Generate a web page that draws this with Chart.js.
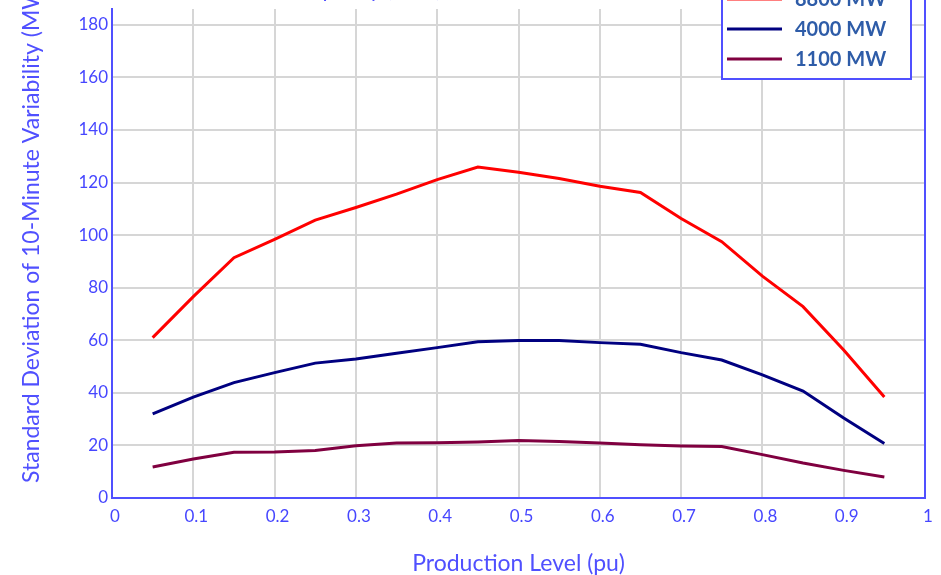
<!DOCTYPE html>
<html>
<head>
<meta charset="utf-8">
<title>10-Minute Variability</title>
<script src="https://cdn.jsdelivr.net/npm/chart.js@4.4.1/dist/chart.umd.min.js"></script>
<style>
    html, body { margin: 0; padding: 0; background: #fff; overflow: hidden; }
    #frame { position: relative; width: 941px; height: 575px; overflow: hidden; }
    #box { position: absolute; left: 0; top: -20px; width: 941px; height: 597px; }
</style>
</head>
<body>
<div id="frame"><div id="box"><canvas id="myChart"></canvas></div></div>
<script>
// Production level (pu) where the curves are sampled //
const productionLevels = [0.05, 0.1, 0.15, 0.2, 0.25, 0.3, 0.35, 0.4, 0.45, 0.5, 0.55, 0.6, 0.65, 0.7, 0.75, 0.8, 0.85, 0.9, 0.95];

// Standard deviation (MW) per plant size //
const sd8800 = [61.0, 76.6, 91.4, 98.4, 105.7, 110.5, 115.6, 121.1, 125.9, 123.9, 121.5, 118.6, 116.2, 106.3, 97.5, 84.4, 72.8, 56.3, 38.4];
const sd4000 = [32.0, 38.4, 43.9, 47.7, 51.3, 52.9, 55.1, 57.2, 59.4, 59.9, 59.9, 59.1, 58.5, 55.3, 52.5, 46.8, 40.7, 30.4, 20.7];
const sd1100 = [11.8, 14.8, 17.4, 17.5, 18.1, 19.9, 20.9, 21.0, 21.3, 21.9, 21.5, 20.9, 20.3, 19.8, 19.6, 16.5, 13.3, 10.5, 8.0];

const seriesNames = ["8800 MW", "4000 MW", "1100 MW"];
const yTickValues = [0, 20, 40, 60, 80, 100, 120, 140, 160, 180];

const blue = "#5050ff";
const textBlue = "#4646ff";
const yTitle = "Standard Deviation of 10-Minute Variability (MW)";
const topTitle = "Wind Capacity (MW)";

Chart.defaults.font.family = "Lato, 'DejaVu Sans', sans-serif";

function toPoints(values) {
    return values.map(function (v, i) {
        return { x: productionLevels[i], y: v };
    });
}

// Legend box, axis title and right border drawn over the plot //
const extras = {
    id: "extras",
    afterDraw: function (chart) {
        const ctx = chart.ctx;
        const area = chart.chartArea;

        ctx.save();
        ctx.strokeStyle = blue;
        ctx.lineWidth = 2;
        ctx.beginPath();
        ctx.moveTo(area.right, 0);
        ctx.lineTo(area.right, area.bottom);
        ctx.stroke();

        ctx.fillStyle = blue;
        ctx.font = "22px Lato";
        ctx.textAlign = "center";
        ctx.textBaseline = "bottom";
        ctx.fillText(topTitle, 340, 21);

        ctx.font = "23px Lato";
        ctx.translate(32, area.bottom - 15);
        ctx.rotate(-Math.PI / 2);
        ctx.textAlign = "left";
        ctx.textBaseline = "middle";
        ctx.fillText(yTitle, 0, 0);
        ctx.restore();

        ctx.save();
        ctx.fillStyle = "#fff";
        ctx.fillRect(722, 2, 189, 97);
        ctx.strokeStyle = blue;
        ctx.lineWidth = 2;
        ctx.strokeRect(722, 2, 189, 97);
        chart.data.datasets.forEach(function (ds, i) {
            const y = 19 + i * 30;
            ctx.strokeStyle = ds.borderColor;
            ctx.lineWidth = ds.borderWidth;
            ctx.beginPath();
            ctx.moveTo(727, y);
            ctx.lineTo(782, y);
            ctx.stroke();
            ctx.fillStyle = "#2e5ca8";
            ctx.font = "bold 20px Lato";
            ctx.textBaseline = "middle";
            ctx.fillText(ds.label, 795, y + 1);
        });
        ctx.restore();
    },
};

const data = {
    datasets: [
        { label: seriesNames[0], data: toPoints(sd8800), borderColor: "#ff0000", borderWidth: 3 },
        { label: seriesNames[1], data: toPoints(sd4000), borderColor: "#000080", borderWidth: 3 },
        { label: seriesNames[2], data: toPoints(sd1100), borderColor: "#800040", borderWidth: 3 },
    ],
};

const config = {
    type: "line",
    data: data,
    options: {
        responsive: true,
        maintainAspectRatio: false,
        animation: false,
        layout: { padding: { top: 29, right: 16, bottom: 0, left: 0 } },
        elements: { point: { radius: 0 }, line: { tension: 0 } },
        plugins: { legend: { display: false }, tooltip: { enabled: false } },
        scales: {
            x: {
                type: "linear",
                min: 0,
                max: 1,
                afterFit: function (axis) { axis.height = 79; },
                ticks: {
                    stepSize: 0.1,
                    color: textBlue,
                    font: { size: 17 },
                    padding: 8,
                    labelOffset: 3,
                    callback: function (value) { return String(Number(value.toFixed(1))); },
                },
                grid: { color: "#d6d6d6", lineWidth: 2, drawTicks: false },
                border: { color: blue, width: 2 },
                title: { display: true, text: "Production Level (pu)", color: blue, font: { size: 23 }, padding: { top: 20, bottom: 0 } },
            },
            y: {
                min: 0,
                max: 186,
                afterBuildTicks: function (axis) {
                    axis.ticks = yTickValues.map(function (v) { return { value: v }; });
                },
                afterFit: function (axis) { axis.width = 112; },
                ticks: { color: textBlue, font: { size: 17 }, padding: 4 },
                grid: { color: "#d6d6d6", lineWidth: 2, drawTicks: false },
                border: { color: blue, width: 2 },
            },
        },
    },
    plugins: [extras],
};

const myChart = new Chart(document.getElementById("myChart"), config);
</script>
</body>
</html>
